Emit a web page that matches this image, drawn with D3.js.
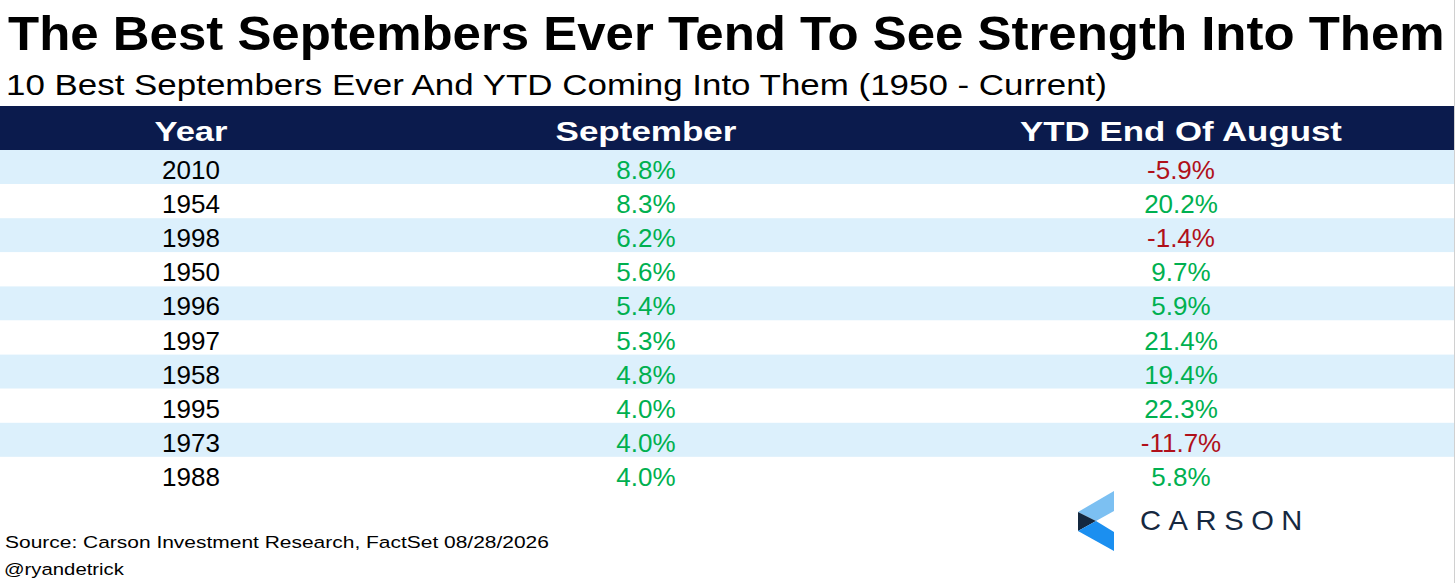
<!DOCTYPE html>
<meta charset="utf-8">
<head>
  <title>Best Septembers table</title>
</head>
<style>
body { margin: 0; background: #fff; }
text { font-family: Arial, "Liberation Sans", sans-serif; }
</style>
<body>
<svg width="1456" height="583"></svg>
<script src="https://d3js.org/d3.v7.min.js"></script>
<script>
// data
var years = ["2010", "1954", "1998", "1950", "1996", "1997", "1958", "1995", "1973", "1988"];
var september = [8.8, 8.3, 6.2, 5.6, 5.4, 5.3, 4.8, 4.0, 4.0, 4.0];
var ytdAugust = [-5.9, 20.2, -1.4, 9.7, 5.9, 21.4, 19.4, 22.3, -11.7, 5.8];
var headers = ["Year", "September", "YTD End Of August"];

var title = "The Best Septembers Ever Tend To See Strength Into Them";
var subtitle = "10 Best Septembers Ever And YTD Coming Into Them (1950 - Current)";
var source = "Source: Carson Investment Research, FactSet 08/28/2026";
var handle = "@ryandetrick";

var svg = d3.select("svg");
var W = 1454;

// squeeze/stretch a text so it spans the width seen in the picture
function fit(sel, target) {
  var w = sel.node().getComputedTextLength();
  var x = +sel.attr("x"), y = +sel.attr("y");
  var k = target / w;
  sel.attr("x", 0).attr("y", 0)
    .attr("transform", "translate(" + x + "," + y + ") scale(" + k + ",1)");
}

var t = svg.append("text").attr("x", 8).attr("y", 50)
  .attr("font-size", 49).attr("font-weight", "bold").attr("fill", "#000").text(title);
fit(t, 1437);

var st = svg.append("text").attr("x", 6).attr("y", 95)
  .attr("font-size", 30).attr("fill", "#000").text(subtitle);
fit(st, 1101);

var y = d3.scaleBand().domain(years).range([150, 491]);
var x = d3.scaleOrdinal().domain(headers).range([191, 646, 1181]);
var headW = d3.scaleOrdinal().domain(headers).range([73, 181, 322]);

// header band
svg.append("rect").attr("x", 0).attr("y", 106).attr("width", W).attr("height", 44)
  .attr("fill", "#0b1b4d");

svg.selectAll("text.head").data(headers).enter().append("text")
  .attr("class", "head")
  .attr("x", function(d) { return x(d); })
  .attr("y", 141)
  .attr("text-anchor", "middle")
  .attr("font-size", 27).attr("font-weight", "bold").attr("fill", "#fff")
  .text(function(d) { return d; })
  .each(function(d) { fit(d3.select(this), headW(d)); });

// row bands
svg.selectAll("rect.row").data(years).enter().append("rect")
  .attr("class", "row")
  .attr("x", 0).attr("y", function(d) { return y(d); })
  .attr("width", W).attr("height", y.bandwidth())
  .attr("fill", function(d, i) { return i % 2 === 0 ? "#dcf0fc" : "#fff"; });

var rows = years.map(function(d, i) {
  return { year: d, sep: september[i], ytd: ytdAugust[i] };
});

function pct(v) { return v.toFixed(1) + "%"; }
function col(v) { return v < 0 ? "#b0101a" : "#00b050"; }

var cells = [];
rows.forEach(function(r) {
  cells.push({ row: r.year, col: "Year", txt: r.year, fill: "#000" });
  cells.push({ row: r.year, col: "September", txt: pct(r.sep), fill: col(r.sep) });
  cells.push({ row: r.year, col: "YTD End Of August", txt: pct(r.ytd), fill: col(r.ytd) });
});

svg.selectAll("text.cell").data(cells).enter().append("text")
  .attr("class", "cell")
  .attr("text-anchor", "middle")
  .attr("font-size", 26)
  .attr("fill", function(d) { return d.fill; })
  .attr("x", function(d) { return x(d.col); })
  .attr("y", function(d) { return y(d.row) + y.bandwidth() / 2 + 12; })
  .text(function(d) { return d.txt; });

// right edge line
svg.append("line").attr("x1", W + 0.5).attr("x2", W + 0.5).attr("y1", 0).attr("y2", 583)
  .attr("stroke", "#d0d0d0");

// footer
var s1 = svg.append("text").attr("x", 5).attr("y", 548)
  .attr("font-size", 17).attr("fill", "#000").text(source);
fit(s1, 544);
var s2 = svg.append("text").attr("x", 4).attr("y", 575)
  .attr("font-size", 17).attr("fill", "#000").text(handle);
fit(s2, 120);

// logo
var logo = svg.append("g");
logo.append("path").attr("d", "M1078,512 L1114,491 L1114,511 L1096,521 Z").attr("fill", "#7cc0f2");
logo.append("path").attr("d", "M1078,512 L1096,521 L1078,531 Z").attr("fill", "#14283f");
logo.append("path").attr("d", "M1078,531 L1096,521 L1114,532 L1114,551 Z").attr("fill", "#1b8ff0");
var lt = svg.append("text").attr("x", 1140).attr("y", 530)
  .attr("font-size", 27).attr("font-weight", 500).attr("fill", "#16283f")
  .attr("letter-spacing", 7).text("CARSON");
fit(lt, 170);
</script>
</body>
</html>
